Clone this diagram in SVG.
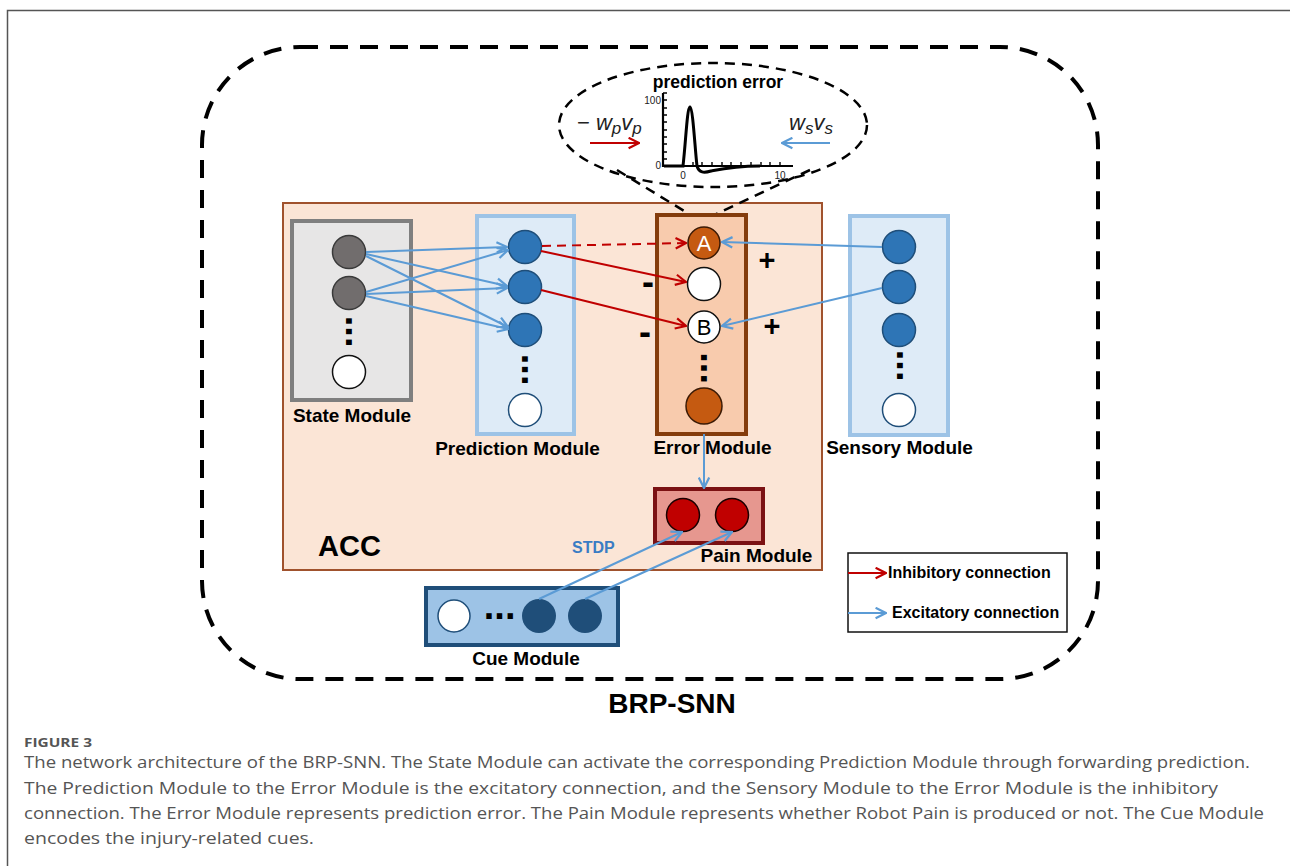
<svg xmlns="http://www.w3.org/2000/svg" width="1290" height="866" viewBox="0 0 1290 866">
  <style>
    .lbl { font-family: "Liberation Sans", Arial, sans-serif; font-weight: bold; font-size: 19px; fill: #000; text-anchor: middle; }
    .dots { font-family: "Liberation Sans", Arial, sans-serif; font-weight: bold; font-size: 38px; fill: #000; }
    .sign { font-family: "Liberation Sans", Arial, sans-serif; font-weight: bold; fill: #000; text-anchor: middle; }
    .cap { font-family: "Open Sans", "Liberation Sans", sans-serif; font-size: 17px; fill: #555; }
    .blue { fill: #2E75B6; stroke: #1F4E79; stroke-width: 1.5; }
    .white { fill: #fff; stroke: #1F4E79; stroke-width: 1.5; }
    .whiteb { fill: #fff; stroke: #111; stroke-width: 1.5; }
    .exc { stroke: #5B9BD5; stroke-width: 2; fill: none; marker-end: url(#arrB); }
    .inh { stroke: #C00000; stroke-width: 2; fill: none; marker-end: url(#arrR); }
    .math { font-family: "Liberation Sans", Arial, sans-serif; font-style: italic; font-size: 22px; fill: #222; }
  </style>
  <defs>
    <marker id="arrB" viewBox="0 0 10 10" refX="9" refY="5" markerWidth="13" markerHeight="13" markerUnits="userSpaceOnUse" orient="auto">
      <path d="M1,1 L9,5 L1,9" fill="none" stroke="#5B9BD5" stroke-width="1.7"/>
    </marker>
    <marker id="arrR" viewBox="0 0 10 10" refX="9" refY="5" markerWidth="13" markerHeight="13" markerUnits="userSpaceOnUse" orient="auto">
      <path d="M1,1 L9,5 L1,9" fill="none" stroke="#C00000" stroke-width="1.7"/>
    </marker>
  </defs>

  <rect width="1290" height="866" fill="#fff"/>
  <!-- page frame -->
  <path d="M7.5,866 V10.5 H1290" fill="none" stroke="#555" stroke-width="1.5"/>

  <!-- BRP-SNN outer boundary -->
  <rect id="brp-snn" x="202" y="47" width="896" height="632" rx="98" ry="98" fill="none" stroke="#000" stroke-width="4" stroke-dasharray="18 12"/>
  <text class="lbl" x="672" y="713" style="font-size:28px">BRP-SNN</text>

  <!-- ACC region -->
  <g id="acc">
    <rect x="283" y="203" width="539" height="367" fill="#FBE5D6" stroke="#A0522D" stroke-width="2"/>
    <text class="lbl" x="318" y="556" style="font-size:29px;text-anchor:start">ACC</text>
  </g>

  <!-- prediction error inset -->
  <g id="prediction-error">
    <ellipse cx="713" cy="125" rx="154" ry="62" fill="none" stroke="#000" stroke-width="2.5" stroke-dasharray="10 7"/>
    <path d="M617,170 L712,228 M810,170 L697,223" fill="none" stroke="#000" stroke-width="2.5" stroke-dasharray="10 7"/>
    <text class="lbl" x="718" y="88" style="font-size:17.5px">prediction error</text>
    <!-- axes -->
    <path d="M663,93 V166 H793" fill="none" stroke="#000" stroke-width="2.2"/>
    <path d="M663,159 h4 M663,152 h4 M663,144 h4 M663,137 h4 M663,130 h4 M663,122 h4 M663,115 h4 M663,108 h4 M663,100 h4 M663,93 h4" stroke="#000" stroke-width="1.4"/>
    <path d="M683,166 v-4 M693,166 v-4 M702,166 v-4 M712,166 v-4 M722,166 v-4 M731,166 v-4 M741,166 v-4 M751,166 v-4 M761,166 v-4 M770,166 v-4 M780,166 v-4" stroke="#000" stroke-width="1.4"/>
    <g font-family="Liberation Sans, Arial, sans-serif" font-size="10" fill="#222">
      <text x="661" y="104" text-anchor="end">100</text>
      <text x="661" y="169" text-anchor="end">0</text>
      <text x="683" y="179" text-anchor="middle">0</text>
      <text x="780" y="179" text-anchor="middle">10</text>
    </g>
    <path d="M664,166 L683,166 C686,140 687,108 690,107 C693,108 695,150 697,166 C699,173 704,173 711,171 C721,169 735,166 760,166" fill="none" stroke="#000" stroke-width="3"/>
    <text class="math" x="577" y="130"><tspan style="font-style:normal">−</tspan> w<tspan font-size="17" dy="4">p</tspan><tspan dy="-4">v</tspan><tspan font-size="17" dy="4">p</tspan></text>
    <text class="math" x="789" y="130">w<tspan font-size="17" dy="4">s</tspan><tspan dy="-4">v</tspan><tspan font-size="17" dy="4">s</tspan></text>
    <line x1="590" y1="143" x2="639" y2="143" class="inh"/>
    <line x1="830" y1="143" x2="782" y2="143" class="exc"/>
  </g>

  <!-- State Module -->
  <g id="state-module">
    <rect x="292" y="221" width="119" height="179" fill="#E7E6E6" stroke="#7F7F7F" stroke-width="4"/>
    <circle cx="349" cy="252" r="16.5" fill="#716D6D" stroke="#3A3A3A" stroke-width="1.5"/>
    <circle cx="349" cy="293" r="16.5" fill="#716D6D" stroke="#3A3A3A" stroke-width="1.5"/>
    <text class="dots" transform="translate(346.4,315.8) rotate(90)">...</text>
    <circle cx="349" cy="372" r="16.5" class="whiteb"/>
    <text class="lbl" x="352" y="422">State Module</text>
  </g>

  <!-- Prediction Module -->
  <g id="prediction-module">
    <rect x="477" y="216" width="97" height="218" fill="#DEEBF7" stroke="#9DC3E6" stroke-width="4"/>
    <circle cx="525" cy="247" r="16.5" class="blue"/>
    <circle cx="525" cy="287" r="16.5" class="blue"/>
    <circle cx="525" cy="330" r="16.5" class="blue"/>
    <text class="dots" transform="translate(522.4,353.8) rotate(90)">...</text>
    <circle cx="525" cy="410" r="16.5" class="white"/>
    <text class="lbl" x="517.5" y="455">Prediction Module</text>
  </g>

  <!-- Error Module -->
  <g id="error-module">
    <rect x="657" y="215" width="89" height="219" fill="#F8CBAD" stroke="#843C0C" stroke-width="4"/>
    <circle cx="704" cy="243" r="16" fill="#C55A11" stroke="#3B1A05" stroke-width="1.5"/>
    <text x="704" y="251" text-anchor="middle" font-family="Liberation Sans, Arial, sans-serif" font-size="22" fill="#fff">A</text>
    <circle cx="704" cy="284" r="16.5" class="whiteb"/>
    <circle cx="704" cy="327" r="16" class="whiteb"/>
    <text x="704" y="335" text-anchor="middle" font-family="Liberation Sans, Arial, sans-serif" font-size="22" fill="#000">B</text>
    <text class="dots" transform="translate(701.4,352.3) rotate(90)">...</text>
    <circle cx="704" cy="406" r="18" fill="#C55A11" stroke="#3B1A05" stroke-width="1.5"/>
    <text class="lbl" x="712.5" y="454">Error Module</text>
  </g>

  <!-- Sensory Module -->
  <g id="sensory-module">
    <rect x="850" y="216" width="98" height="219" fill="#DEEBF7" stroke="#9DC3E6" stroke-width="4"/>
    <circle cx="899" cy="247" r="16.5" class="blue"/>
    <circle cx="899" cy="287" r="16.5" class="blue"/>
    <circle cx="899" cy="330" r="16.5" class="blue"/>
    <text class="dots" transform="translate(897.4,349.8) rotate(90)">...</text>
    <circle cx="899" cy="410" r="16.5" class="white"/>
    <text class="lbl" x="899.5" y="454">Sensory Module</text>
  </g>

  <!-- Pain Module -->
  <g id="pain-module">
    <rect x="655" y="489" width="108" height="54" fill="#E6978F" stroke="#7B1113" stroke-width="4"/>
    <circle cx="683" cy="515" r="16.5" fill="#C00000" stroke="#1A0000" stroke-width="1.5"/>
    <circle cx="732" cy="515" r="16.5" fill="#C00000" stroke="#1A0000" stroke-width="1.5"/>
    <text class="lbl" x="756.5" y="562">Pain Module</text>
  </g>

  <!-- Cue Module -->
  <g id="cue-module">
    <rect x="426" y="588" width="192" height="57" fill="#9DC3E6" stroke="#1F4E79" stroke-width="4"/>
    <circle cx="454" cy="616" r="16" class="white"/>
    <text class="dots" x="483.8" y="618.6">...</text>
    <circle cx="539" cy="616" r="17" fill="#1F4E79"/>
    <circle cx="585" cy="616" r="17" fill="#1F4E79"/>
    <text class="lbl" x="526" y="665">Cue Module</text>
  </g>

  <!-- connections -->
  <g id="connectors">
    <!-- state -> prediction -->
    <line x1="366" y1="252" x2="507" y2="247" class="exc"/>
    <line x1="366" y1="254" x2="507" y2="286" class="exc"/>
    <line x1="366" y1="256" x2="508" y2="327" class="exc"/>
    <line x1="366" y1="292" x2="508" y2="250" class="exc"/>
    <line x1="366" y1="294" x2="507" y2="288" class="exc"/>
    <line x1="366" y1="296" x2="508" y2="329" class="exc"/>
    <!-- prediction -> error (inhibitory) -->
    <line x1="542" y1="246" x2="686" y2="243" class="inh" stroke-dasharray="9 6"/>
    <line x1="541" y1="251" x2="686" y2="282" class="inh"/>
    <line x1="541" y1="290" x2="686" y2="326" class="inh"/>
    <!-- sensory -> error (excitatory) -->
    <line x1="882" y1="247" x2="722" y2="242" class="exc"/>
    <line x1="882" y1="288" x2="722" y2="326" class="exc"/>
    <!-- error -> pain -->
    <line x1="704" y1="434" x2="704" y2="488" class="exc"/>
    <!-- cue -> pain (STDP) -->
    <line x1="539" y1="599" x2="682" y2="532" class="exc"/>
    <line x1="585" y1="599" x2="732" y2="532" class="exc"/>
    <text class="lbl" x="572" y="553" style="font-size:16px;fill:#3A7CC4;text-anchor:start">STDP</text>
    <!-- signs -->
    <text class="sign" x="767" y="270" font-size="29">+</text>
    <text class="sign" x="772" y="336" font-size="29">+</text>
    <text class="sign" x="648" y="294" font-size="36">-</text>
    <text class="sign" x="645" y="344" font-size="36">-</text>
  </g>

  <!-- legend -->
  <g id="legend">
    <rect x="848" y="553" width="219" height="79" fill="#fff" stroke="#111" stroke-width="1.5"/>
    <line x1="848" y1="573" x2="886" y2="573" class="inh"/>
    <text class="lbl" x="888" y="578" style="font-size:16px;text-anchor:start">Inhibitory connection</text>
    <line x1="848" y1="613" x2="886" y2="613" class="exc"/>
    <text class="lbl" x="892" y="618" style="font-size:16px;text-anchor:start">Excitatory connection</text>
  </g>

  <!-- caption -->
  <g id="caption">
    <text class="cap" x="24" y="747" style="font-size:13px;font-weight:bold" textLength="68" lengthAdjust="spacingAndGlyphs">FIGURE 3</text>
    <text class="cap" x="24" y="768" textLength="1226" lengthAdjust="spacingAndGlyphs">The network architecture of the BRP-SNN. The State Module can activate the corresponding Prediction Module through forwarding prediction.</text>
    <text class="cap" x="24" y="794" textLength="1194" lengthAdjust="spacingAndGlyphs">The Prediction Module to the Error Module is the excitatory connection, and the Sensory Module to the Error Module is the inhibitory</text>
    <text class="cap" x="24" y="819" textLength="1240" lengthAdjust="spacingAndGlyphs">connection. The Error Module represents prediction error. The Pain Module represents whether Robot Pain is produced or not. The Cue Module</text>
    <text class="cap" x="24" y="844" textLength="290" lengthAdjust="spacingAndGlyphs">encodes the injury-related cues.</text>
  </g>
</svg>
